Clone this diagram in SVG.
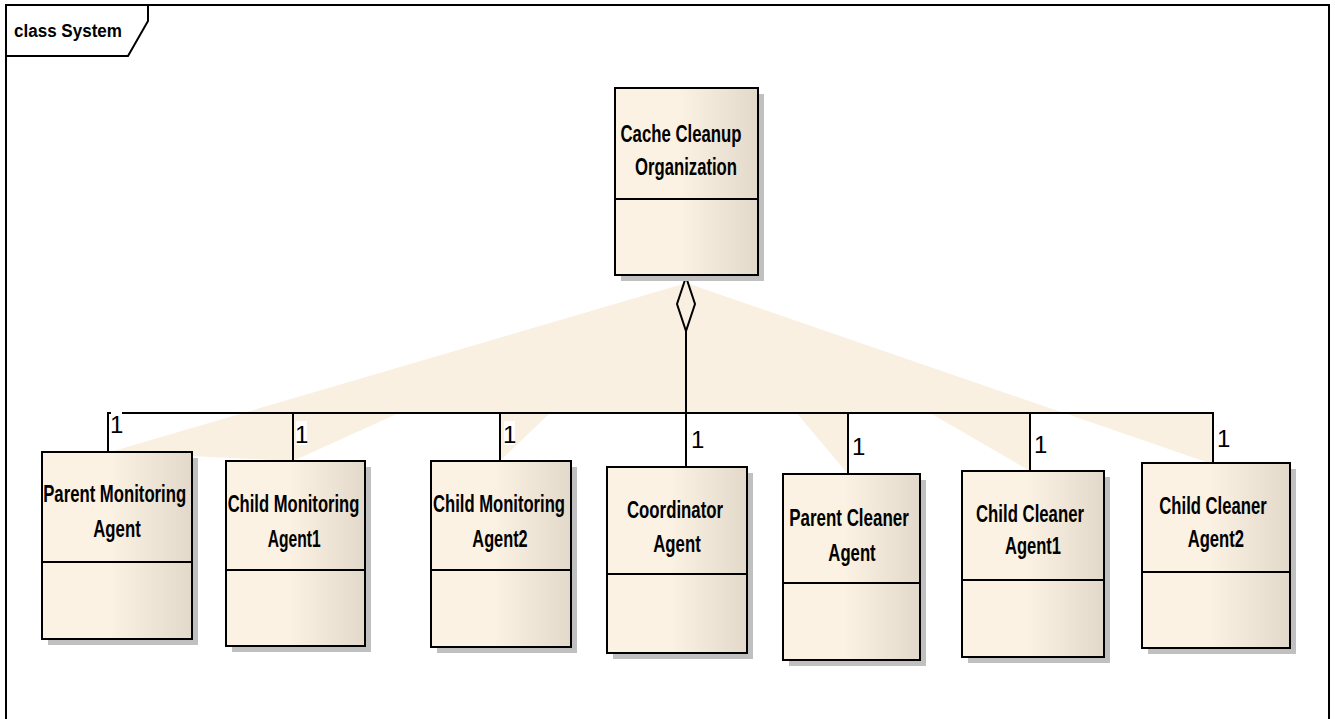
<svg xmlns="http://www.w3.org/2000/svg" width="1335" height="719" viewBox="0 0 1335 719">
  <defs>
    <linearGradient id="classFill" x1="0" y1="0" x2="1" y2="0">
      <stop offset="0" stop-color="#FBF2E4"/>
      <stop offset="0.45" stop-color="#FBF2E4"/>
      <stop offset="1" stop-color="#E2D9CB"/>
    </linearGradient>
    <style>
      .frame { fill: none; stroke: #000; stroke-width: 2; }
      .shadow { fill: #C0C0C0; }
      .box { fill: url(#classFill); stroke: #000; stroke-width: 2; }
      .div { stroke: #000; stroke-width: 2; }
      .name { font-family: "Liberation Sans", Arial, sans-serif; font-weight: bold; font-size: 23px; fill: #000; text-anchor: middle; }
      .title { font-family: "Liberation Sans", Arial, sans-serif; font-weight: bold; font-size: 17.5px; fill: #000; }
      .wire { fill: none; stroke: #000; stroke-width: 2; }
      .fan { fill: #FAF0E1; }
      .mult { font-family: "Liberation Sans", Arial, sans-serif; font-size: 24px; fill: #000; }
      .multbg { fill: #FFF; }
    </style>
  </defs>

  <rect x="0" y="0" width="1335" height="719" fill="#FFF"/>

  <!-- diagram frame and name tab -->
  <g id="frame">
    <polyline class="frame" points="6,719 6,5 1329,5 1329,719"/>
    <polyline class="frame" points="6,56 128,56 148,21 148,5"/>
    <text class="title" x="14" y="36.5" textLength="108" lengthAdjust="spacingAndGlyphs">class System</text>
  </g>

  <!-- highlight wedge behind the aggregation -->
  <path class="fan" d="M686.5,283 L243,413 L1064,413 Z
                       M110,452 L243,413 L399,413 L293,461 Z
                       M500,413 L550,413 L500,461 Z
                       M848,413 L796.5,413 L848,474 Z
                       M1030,413 L930,413 L1030,471 Z
                       M1212,413 L1064,413 L1212,464 Z"/>

  <!-- aggregation connectors -->
  <g id="connectors">
    <polyline class="wire" points="108,452 108,413 1213,413 1213,463"/>
    <line class="wire" x1="293" y1="413" x2="293" y2="461"/>
    <line class="wire" x1="500" y1="413" x2="500" y2="461"/>
    <line class="wire" x1="686" y1="331" x2="686" y2="467"/>
    <line class="wire" x1="848" y1="413" x2="848" y2="474"/>
    <line class="wire" x1="1030" y1="413" x2="1030" y2="471"/>
    <polygon class="wire" points="686,277 677,304 686,331 695,304"/>

    <rect class="multbg" x="111" y="411" width="11" height="25"/>
    <text class="mult" x="110" y="433">1</text>
    <rect class="multbg" x="296" y="421" width="11" height="24"/>
    <text class="mult" x="295" y="443">1</text>
    <rect class="multbg" x="504" y="421" width="11" height="24"/>
    <text class="mult" x="503" y="443">1</text>
    <text class="mult" x="691" y="448">1</text>
    <text class="mult" x="852" y="455">1</text>
    <text class="mult" x="1034" y="453">1</text>
    <text class="mult" x="1217" y="447">1</text>
  </g>

  <g id="cache-cleanup-organization">
    <rect class="shadow" x="621" y="94" width="143" height="187"/>
    <rect class="box" x="615" y="88" width="143" height="187"/>
    <line class="div" x1="615" y1="199" x2="758" y2="199"/>
    <text class="name" x="681" y="141.5" textLength="121" lengthAdjust="spacingAndGlyphs">Cache Cleanup</text>
    <text class="name" x="686" y="174.5" textLength="102" lengthAdjust="spacingAndGlyphs">Organization</text>
  </g>

  <g id="parent-monitoring-agent">
    <rect class="shadow" x="48" y="458" width="150" height="187"/>
    <rect class="box" x="42" y="452" width="150" height="187"/>
    <line class="div" x1="42" y1="562" x2="192" y2="562"/>
    <text class="name" x="114.7" y="502" textLength="143" lengthAdjust="spacingAndGlyphs">Parent Monitoring</text>
    <text class="name" x="117" y="537" textLength="47.5" lengthAdjust="spacingAndGlyphs">Agent</text>
  </g>

  <g id="child-monitoring-agent1">
    <rect class="shadow" x="232" y="467" width="139" height="185"/>
    <rect class="box" x="226" y="461" width="139" height="185"/>
    <line class="div" x1="226" y1="570" x2="365" y2="570"/>
    <text class="name" x="293.5" y="511.7" textLength="131.7" lengthAdjust="spacingAndGlyphs">Child Monitoring</text>
    <text class="name" x="294.2" y="546.7" textLength="53" lengthAdjust="spacingAndGlyphs">Agent1</text>
  </g>

  <g id="child-monitoring-agent2">
    <rect class="shadow" x="437" y="467" width="140" height="186"/>
    <rect class="box" x="431" y="461" width="140" height="186"/>
    <line class="div" x1="431" y1="570" x2="571" y2="570"/>
    <text class="name" x="499" y="511.7" textLength="132" lengthAdjust="spacingAndGlyphs">Child Monitoring</text>
    <text class="name" x="500" y="547.3" textLength="55.3" lengthAdjust="spacingAndGlyphs">Agent2</text>
  </g>

  <g id="coordinator-agent">
    <rect class="shadow" x="613" y="473" width="140" height="186"/>
    <rect class="box" x="607" y="467" width="140" height="186"/>
    <line class="div" x1="607" y1="574" x2="747" y2="574"/>
    <text class="name" x="675" y="518" textLength="96" lengthAdjust="spacingAndGlyphs">Coordinator</text>
    <text class="name" x="677" y="552" textLength="47.5" lengthAdjust="spacingAndGlyphs">Agent</text>
  </g>

  <g id="parent-cleaner-agent">
    <rect class="shadow" x="789" y="480" width="137" height="186"/>
    <rect class="box" x="783" y="474" width="137" height="186"/>
    <line class="div" x1="783" y1="583" x2="920" y2="583"/>
    <text class="name" x="849" y="526" textLength="119.7" lengthAdjust="spacingAndGlyphs">Parent Cleaner</text>
    <text class="name" x="852" y="560.7" textLength="47.3" lengthAdjust="spacingAndGlyphs">Agent</text>
  </g>

  <g id="child-cleaner-agent1">
    <rect class="shadow" x="968" y="477" width="142" height="186"/>
    <rect class="box" x="962" y="471" width="142" height="186"/>
    <line class="div" x1="962" y1="580" x2="1104" y2="580"/>
    <text class="name" x="1030" y="521.7" textLength="108" lengthAdjust="spacingAndGlyphs">Child Cleaner</text>
    <text class="name" x="1033" y="554" textLength="56" lengthAdjust="spacingAndGlyphs">Agent1</text>
  </g>

  <g id="child-cleaner-agent2">
    <rect class="shadow" x="1148" y="469" width="148" height="185"/>
    <rect class="box" x="1142" y="463" width="148" height="185"/>
    <line class="div" x1="1142" y1="572" x2="1290" y2="572"/>
    <text class="name" x="1213" y="514.3" textLength="107.3" lengthAdjust="spacingAndGlyphs">Child Cleaner</text>
    <text class="name" x="1215.8" y="546.7" textLength="56.3" lengthAdjust="spacingAndGlyphs">Agent2</text>
  </g>
</svg>
